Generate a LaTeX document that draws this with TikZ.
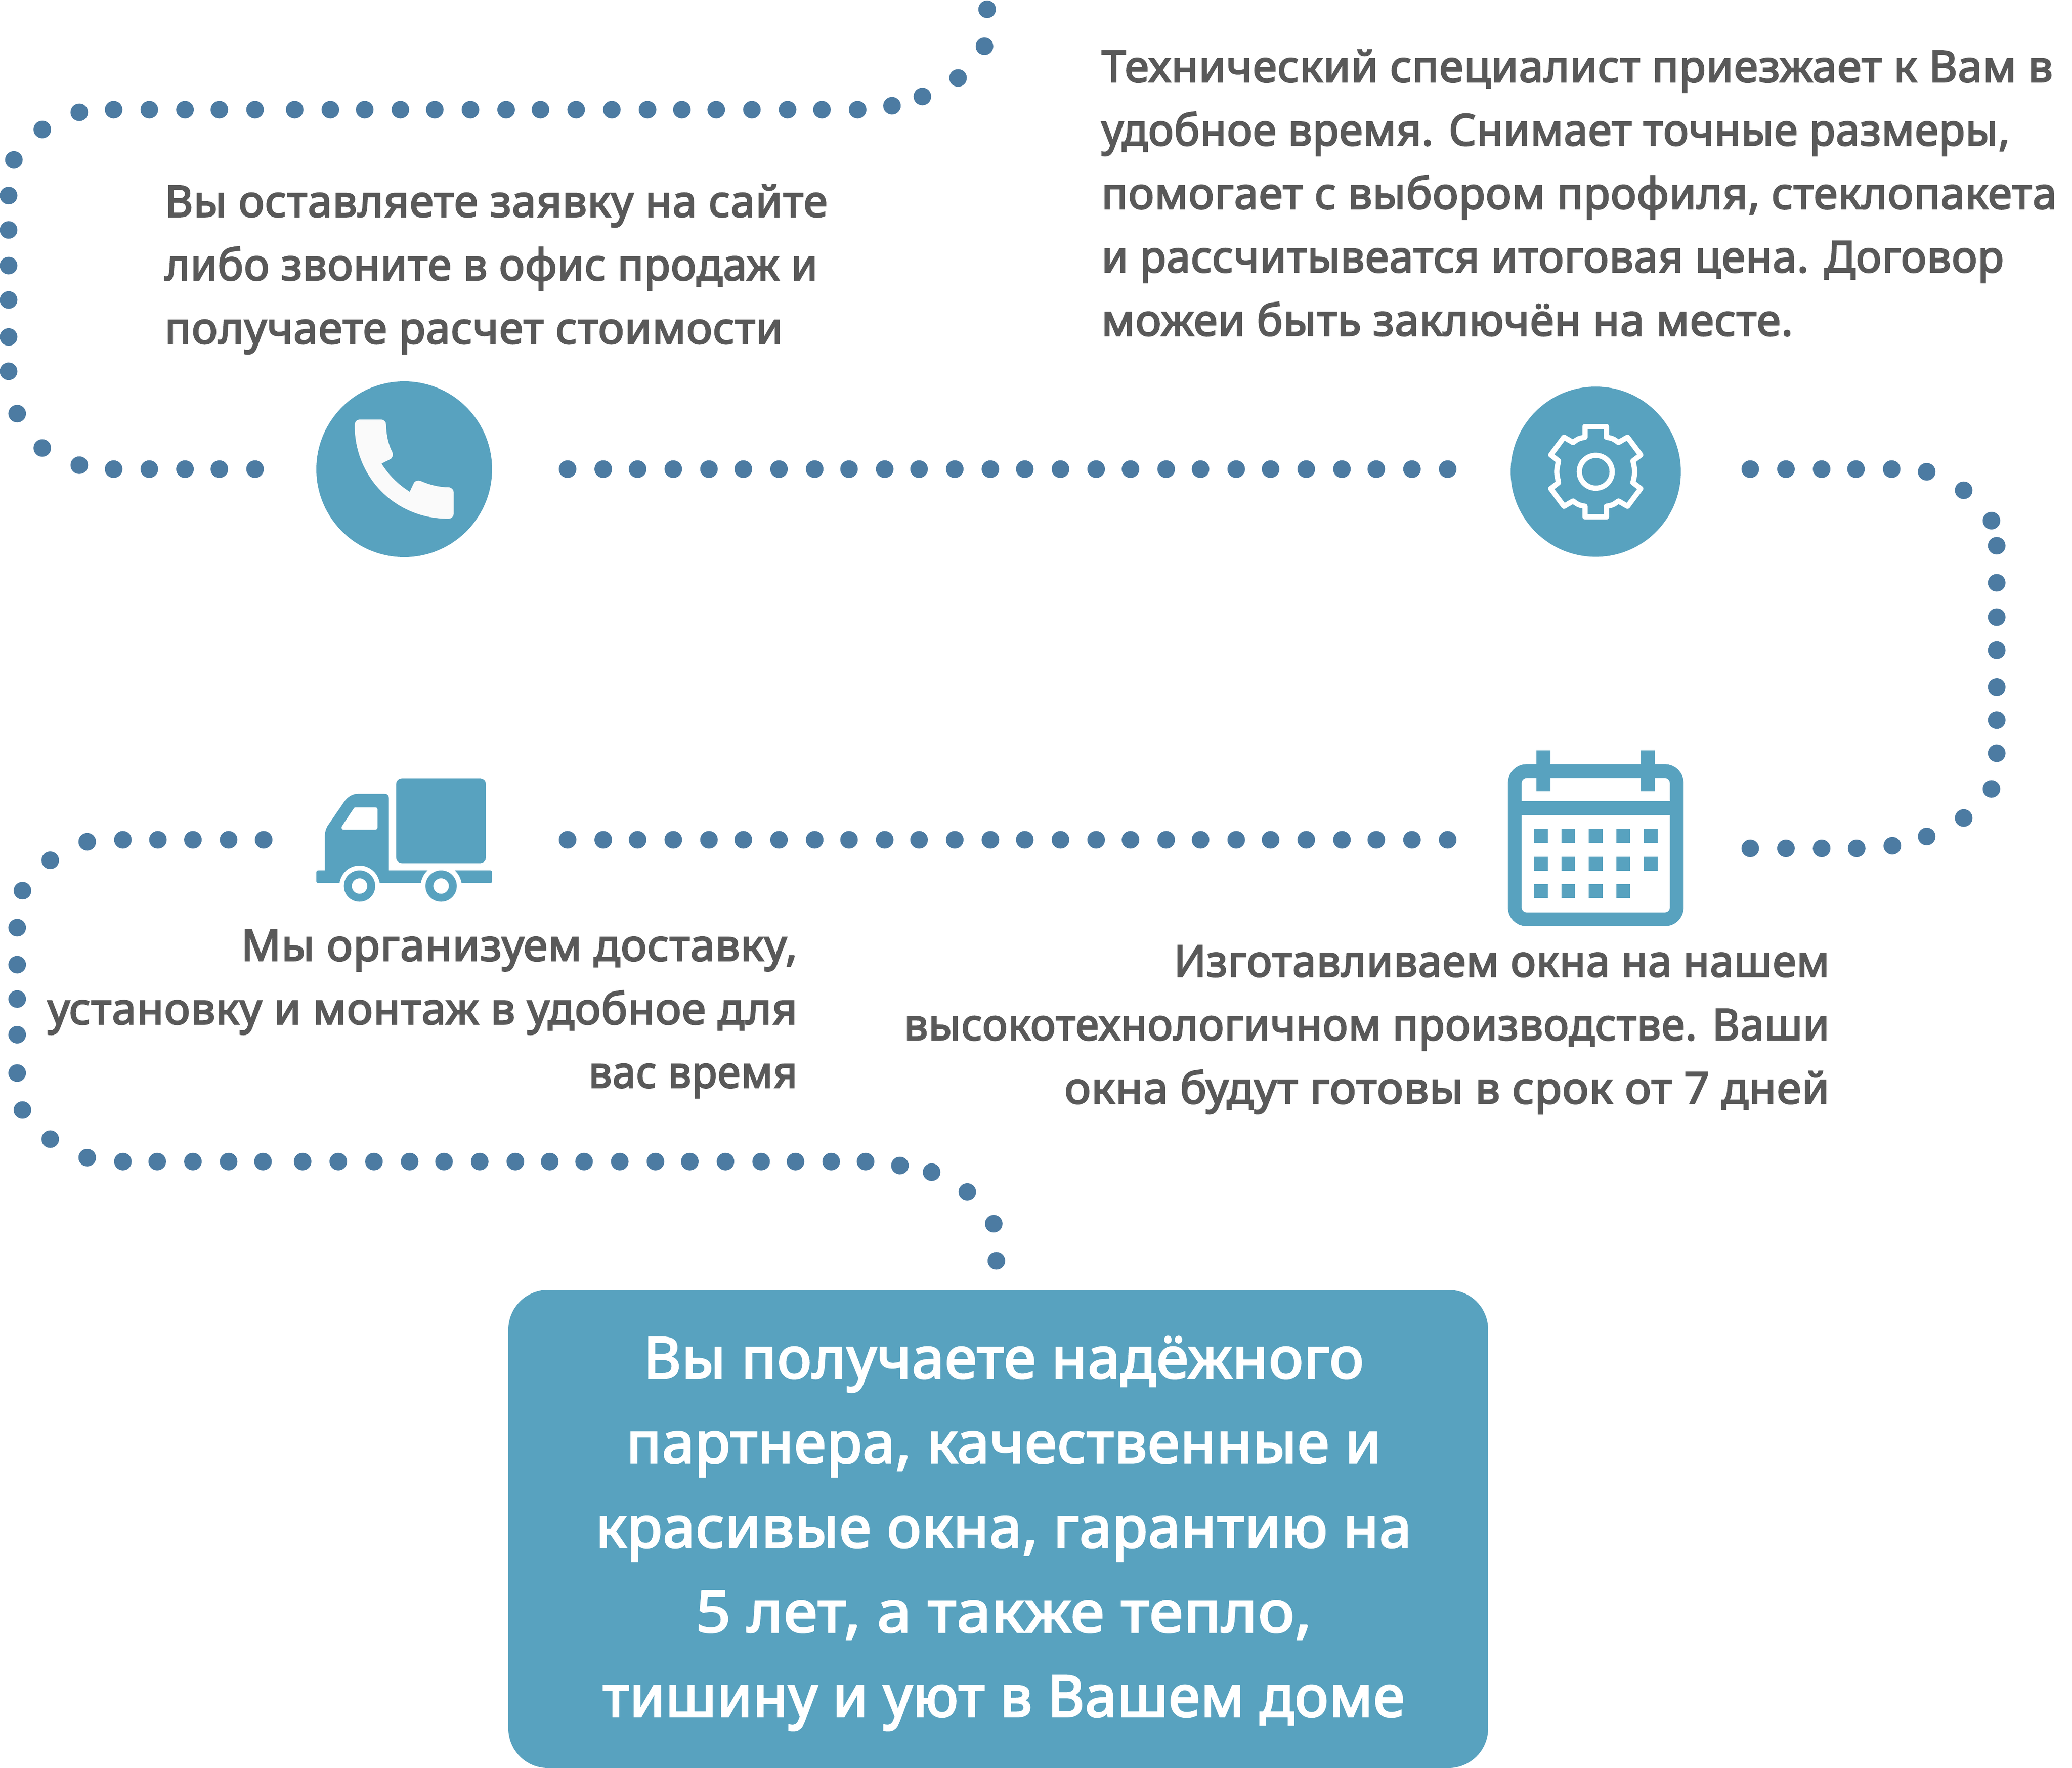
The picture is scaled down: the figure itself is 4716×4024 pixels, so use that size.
\documentclass[tikz,border=0pt]{standalone}
\usepackage{fontspec}
\setmainfont{Noto Sans}
\newfontfamily\txtfont{Noto Sans}[FakeBold=3.2,LetterSpace=1.4]
\newcommand{\fitw}[2]{\scalebox{#1}[1]{#2}}
\definecolor{teal}{HTML}{58A2BF}
\definecolor{dotc}{HTML}{4C7BA2}
\definecolor{txt}{HTML}{595959}
\tikzset{
  x=0.1pt,y=-0.1pt,
  pdot/.style={fill=dotc},
  bodytext/.style={inner sep=0pt,text=txt,font=\fontsize{9.9}{14}\txtfont},
  boxtext/.style={inner sep=0pt,text=white,anchor=base,font=\fontsize{13.07}{19}\txtfont},
  iconfill/.style={fill=teal},
}
\begin{document}
\begin{tikzpicture}
\useasboundingbox (0,0) rectangle (4716,4024);
% dotted trails (coordinates in 1568-wide view units)
\begin{scope}[scale=3.0077]
\foreach \p in {(747,7),(745,35),(725,59),(698,73),(675,80),(649,83),(622,83),(596,83),(569,83),(542,83),(516,83),(490,83),(463,83),(436,83),(409,83),(383,83),(356,83),(329,83),(303,83),(276,83),(250,83),(223,83),(193,83),(166,83),(140,83),(113,83),(86,83),(60,85),(32,98),(10.5,121),(6.5,148),(6.5,174),(6.5,201),(6.5,227),(6.5,255),(6.5,281),(13,313),(32,339),(60,352),(86,355),(113,355),(140,355),(166,355),(193,355),
(1324.5,355),(1351.5,355),(1378.5,355),(1404.5,355),(1431.5,355),(1458,357),(1486,371),(1507,394),(1511,413),(1511,441),(1511,467),(1511,492),(1511,520),(1511,545),(1511,570),(1507,597),(1486,619),(1458,633),(1432,640),(1405,642),(1378.5,642),(1351.5,642),(1324.5,642),
(199.5,635.5),(173,635.5),(146,635.5),(119.5,635.5),(93,635.5),(66,637),(38,651),(17,674),(13,702),(13,730),(13,756),(13,783),(13,812),(17,840),(38,862),(66,876),(93,879),(119,879),(146,879),(173,879),(199,879),(229,879),(256,879),(283,879),(310,879),(336,879),(363,879),(390,879),(416,879),(442,879),(469,879),(496,879),(522,879),(549,879),(576,879),(602,879),(629,879),(655,879),(681,882),(705,887),(732,902),(752,926),(754,954)}
  \fill[pdot] \p circle (6.65);
\foreach \xx in {429.5,456.5,482.5,509.5,536.5,562.5,589.5,616.5,642.5,669.5,695.5,722.5,749.5,775.5,802.5,829.5,855.5,882.5,908.5,935.5,961.5,988.5,1015.5,1041.5,1068.5,1095.5}{
  \fill[pdot] (\xx,355) circle (6.65);
  \fill[pdot] (\xx,635.5) circle (6.65);
}
\end{scope}
% phone icon
\fill[iconfill] (920,1068) circle (200);
\begin{scope}[shift={(680,840)},scale=1/3]
\fill[white!98!black] (382,385) .. controls (382,360) and (395,345) .. (415,345) -- (560,345) .. controls (582,345) and (596,360) .. (596,380)
 .. controls (598,450) and (610,510) .. (638,565) .. controls (648,590) and (640,608) .. (620,618) -- (565,645)
 .. controls (610,720) and (680,790) .. (758,838) -- (785,780) .. controls (795,760) and (815,757) .. (835,765)
 .. controls (890,790) and (960,807) .. (1020,807) .. controls (1042,807) and (1058,822) .. (1058,845) -- (1058,985)
 .. controls (1058,1008) and (1042,1022) .. (1020,1022) .. controls (660,1022) and (382,740) .. (382,385) -- cycle;
\end{scope}
% gear icon
\fill[iconfill] (3632,1073.7) circle (193.7);
\begin{scope}[shift={(3632,1073.7)},scale=1/3]
\draw[white,line width=1.2pt,line join=round] (-73,-308) -- (73,-308) -- (73,-236) .. controls (118,-227) .. (155,-200) -- (217,-236) -- (307,-115) -- (254,-74) .. controls (270,0) .. (254,74) -- (307,115) -- (217,236) -- (155,200) .. controls (118,227) .. (73,236) -- (73,308) -- (-73,308) -- (-73,236) .. controls (-118,227) .. (-155,200) -- (-217,236) -- (-307,115) -- (-254,74) .. controls (-270,0) .. (-254,-74) -- (-307,-115) -- (-217,-236) -- (-155,-200) .. controls (-118,-227) .. (-73,-236) -- cycle;
\draw[white,line width=1.2pt] (0,0) circle (112);
\end{scope}
% calendar icon
\begin{scope}[shift={(3420,1700)},scale=1/3]
\draw[teal,line width=3.13pt,rounded corners=2.7pt] (83,165) rectangle (1189,1177);
\fill[iconfill] (83,370) rectangle (1189,464);
\fill[iconfill] (232,24) rectangle (326,304);
\fill[iconfill] (945,24) rectangle (1040,304);
\foreach \yy/\cols in {562/{214,401,589,776,964},750/{214,401,589,776,964},937/{214,401,589,776}}{
  \foreach \xx in \cols { \fill[iconfill] (\xx,\yy) rectangle ++(95,95); }
}
\end{scope}
% truck icon
\begin{scope}[shift={(700,1750)},scale=1/3]
\fill[iconfill,rounded corners=1.3pt] (605,644) -- (605,64) -- (1218,64) -- (1218,644) -- cycle;
\fill[iconfill,even odd rule]
 (118,693) -- (118,460) .. controls (118,430) and (128,403) .. (140,385) -- (250,225) .. controls (270,195) and (305,170) .. (345,170) -- (525,170) .. controls (545,170) and (555,182) .. (555,200) -- (555,693) -- (820,693) .. controls (795,715) and (780,745) .. (773,780) -- (493,780) .. controls (480,705) and (420,660) .. (355,660) .. controls (290,660) and (230,705) .. (218,780) -- (75,780) .. controls (65,780) and (60,775) .. (60,765) -- (60,708) .. controls (60,698) and (65,693) .. (75,693) -- cycle
 (325,263) -- (465,263) .. controls (473,263) and (478,268) .. (478,275) -- (478,400) .. controls (478,410) and (473,415) .. (465,415) -- (245,415) .. controls (233,415) and (228,403) .. (235,390) -- (315,270) .. controls (318,265) and (321,263) .. (325,263) -- cycle;
\fill[iconfill] (1005,693) -- (1245,693) .. controls (1255,693) and (1260,698) .. (1260,708) -- (1260,765) .. controls (1260,775) and (1255,780) .. (1245,780) -- (1052,780) .. controls (1045,745) and (1030,715) .. (1005,693) -- cycle;
\fill[iconfill,even odd rule] (355,800) circle (107) (355,800) circle (53);
\fill[iconfill,even odd rule] (912,800) circle (107) (912,800) circle (53);
\end{scope}
% result box
\fill[iconfill,rounded corners=9pt] (1157,2936) rectangle (3387,4024);
% texts (baselines in view units)
\begin{scope}[scale=3.0077]
\node[bodytext,anchor=base west] (a1) at (124,164) {Вы оставляете заявку на сайте};
\node[bodytext,anchor=base west] (a2) at (124,212) {\fitw{.986}{либо звоните в офис продаж и}};
\node[bodytext,anchor=base west] (a3) at (124,260) {\fitw{1.002}{получаете расчет стоимости}};
\node[bodytext,anchor=base west] (b1) at (833,62) {\fitw{1.003}{Технический специалист приезжает к Вам в}};
\node[bodytext,anchor=base west] (b2) at (833,110) {\fitw{.98}{удобное время. Снимает точные размеры,}};
\node[bodytext,anchor=base west] (b3) at (833,158) {\fitw{.993}{помогает с выбором профиля, стеклопакета}};
\node[bodytext,anchor=base west] (b4) at (833,206) {\fitw{.984}{и рассчитывеатся итоговая цена. Договор}};
\node[bodytext,anchor=base west] (b5) at (833,254) {\fitw{.996}{можеи быть заключён на месте.}};
\node[bodytext,anchor=base east] (c1) at (604,727) {\fitw{1.005}{Мы организуем доставку,}};
\node[bodytext,anchor=base east] (c2) at (604,775) {\fitw{1.002}{установку и монтаж в удобное для}};
\node[bodytext,anchor=base east] (c3) at (604,823) {\fitw{.952}{вас время}};
\node[bodytext,anchor=base east] (d1) at (1385,739) {\fitw{.976}{Изготавливаем окна на нашем}};
\node[bodytext,anchor=base east] (d2) at (1385,787) {\fitw{.974}{высокотехнологичном производстве. Ваши}};
\node[bodytext,anchor=base east] (d3) at (1385,835) {\fitw{1.018}{окна будут готовы в срок от 7 дней}};
\node[boxtext] (e1) at (759.5,1043) {\fitw{1.005}{Вы получаете надёжного}};
\node[boxtext] (e2) at (759.5,1107) {\fitw{1.005}{партнера, качественные и}};
\node[boxtext] (e3) at (759.5,1171) {\fitw{1.003}{красивые окна, гарантию на}};
\node[boxtext] (e4) at (759.5,1235) {\fitw{1.06}{5 лет, а также тепло,}};
\node[boxtext] (e5) at (759.5,1299) {\fitw{.985}{тишину и уют в Вашем доме}};
\end{scope}
\end{tikzpicture}
\end{document}
